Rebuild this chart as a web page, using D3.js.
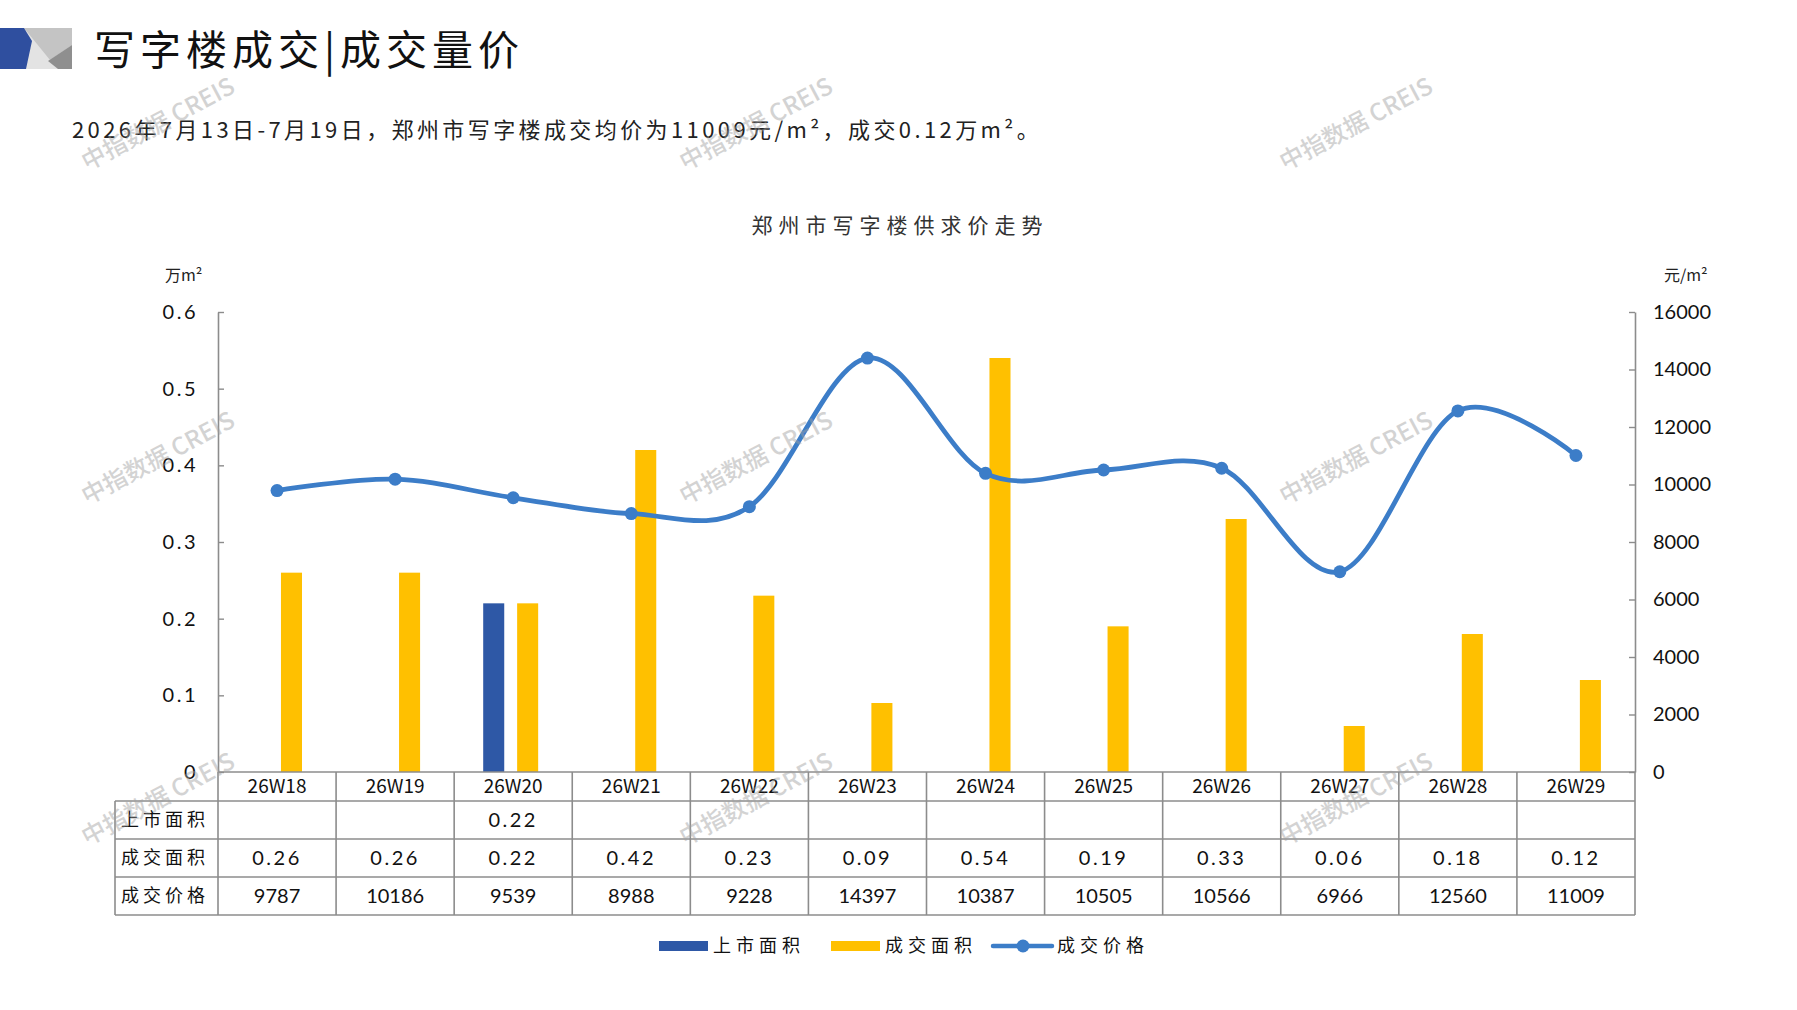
<!DOCTYPE html>
<html>
<head>
<meta charset="utf-8">
<script src="https://cdn.jsdelivr.net/npm/d3@7"></script>
<style>
  body { margin: 0; background: #fff; }
  svg { display: block; }
</style>
</head>
<body>
<svg id="chart" width="1797" height="1010"></svg>
<script>
// ---------------------------------------------------------------
// Data
// ---------------------------------------------------------------
const weeks = ['26W18', '26W19', '26W20', '26W21', '26W22', '26W23',
  '26W24', '26W25', '26W26', '26W27', '26W28', '26W29']
const listedArea = [null, null, 0.22, null, null, null, null, null, null, null, null, null]
const dealArea = [0.26, 0.26, 0.22, 0.42, 0.23, 0.09, 0.54, 0.19, 0.33, 0.06, 0.18, 0.12]
const dealPrice = [9787, 10186, 9539, 8988, 9228, 14397, 10387, 10505, 10566, 6966, 12560, 11009]

const areaTicks = [0, 0.1, 0.2, 0.3, 0.4, 0.5, 0.6]
const priceTicks = [0, 2000, 4000, 6000, 8000, 10000, 12000, 14000, 16000]
const seriesNames = ['上市面积', '成交面积', '成交价格']

const pageTitle = '写字楼成交|成交量价'
const subtitle = '2026年7月13日-7月19日，郑州市写字楼成交均价为11009元/m²，成交0.12万m²。'
const chartTitle = '郑州市写字楼供求价走势'
const leftUnit = '万m²'
const rightUnit = '元/m²'
const watermark = '中指数据 CREIS'

// ---------------------------------------------------------------
// Layout
// ---------------------------------------------------------------
const C_BLUE = '#2E58A6', C_YELLOW = '#FFC000', C_LINE = '#3C7DC8', C_GRID = '#8C8C8C'
const CJK = '"Noto Sans CJK SC", "Noto Sans", sans-serif'
const NUM = 'Lato, "Open Sans", sans-serif'

const plot = { left: 218, right: 1635, top: 312, bottom: 772 }
const tableLeft = 115
const rowEdges = [772, 801, 839, 877, 915]

const svg = d3.select('#chart')
svg.append('rect').attr('width', 1797).attr('height', 1010).attr('fill', '#fff')

const x = d3.scaleBand().domain(weeks).range([plot.left, plot.right])
const xs = d3.scaleBand().domain(seriesNames.slice(0, 2))
  .range([0, x.bandwidth()]).paddingInner(0.38).paddingOuter(0.93).align(0.46)
const yL = d3.scaleLinear().domain([0, 0.6]).range([plot.bottom, plot.top])
const yR = d3.scaleLinear().domain([0, 16000]).range([plot.bottom, plot.top])
const cx = w => x(w) + x.bandwidth() / 2

// ---------------------------------------------------------------
// Header block
// ---------------------------------------------------------------
const head = svg.append('g')
head.append('rect').attr('x', 0).attr('y', 28).attr('width', 72).attr('height', 41).attr('fill', '#e3e3e3')
head.append('polygon').attr('points', '24,28 72,28 72,45 50,60').attr('fill', '#c4c4c4')
head.append('polygon').attr('points', '72,45 72,69 58,69 48,61').attr('fill', '#8f8f8f')
head.append('polygon').attr('points', '0,28 24,28 32,41 26,69 0,69').attr('fill', '#2F4F9F')

svg.append('text')
  .attr('x', 94).attr('y', 65)
  .style('font-family', CJK).style('font-size', '41px').style('letter-spacing', '5px')
  .style('fill', '#111')
  .text(pageTitle)

svg.append('text')
  .attr('x', 72).attr('y', 138)
  .style('font-family', CJK).style('font-size', '22px').style('letter-spacing', '3.4px')
  .style('fill', '#222')
  .text(subtitle)

svg.append('text')
  .attr('x', 900).attr('y', 233).attr('text-anchor', 'middle')
  .style('font-family', CJK).style('font-size', '21px').style('letter-spacing', '6px')
  .style('fill', '#333')
  .text(chartTitle)

svg.append('text')
  .attr('x', 165).attr('y', 281)
  .style('font-family', CJK).style('font-size', '16px').style('fill', '#222')
  .text(leftUnit)
svg.append('text')
  .attr('x', 1664).attr('y', 281)
  .style('font-family', CJK).style('font-size', '16px').style('fill', '#222')
  .text(rightUnit)

// ---------------------------------------------------------------
// Axes
// ---------------------------------------------------------------
const leftAxis = d3.axisLeft(yL).tickValues(areaTicks)
  .tickSizeInner(-6).tickSizeOuter(0).tickPadding(20)
  .tickFormat(d => d === 0 ? '0' : d.toFixed(1))
const rightAxis = d3.axisRight(yR).tickValues(priceTicks)
  .tickSizeInner(-6).tickSizeOuter(0).tickPadding(18)
  .tickFormat(d3.format('d'))

const gL = svg.append('g').attr('transform', `translate(${plot.left},0)`).call(leftAxis)
const gR = svg.append('g').attr('transform', `translate(${plot.right},0)`).call(rightAxis)
for (const g of [gL, gR]) {
  g.select('.domain').attr('stroke', C_GRID).attr('stroke-width', 1.6)
  g.selectAll('.tick line').attr('stroke', C_GRID).attr('stroke-width', 1.4)
  g.selectAll('.tick text').style('font-family', NUM).style('font-size', '20px').style('fill', '#111')
}
gL.selectAll('.tick text').style('letter-spacing', '2.5px')

// ---------------------------------------------------------------
// Bars
// ---------------------------------------------------------------
const barSeries = [
  { name: seriesNames[0], values: listedArea, color: C_BLUE },
  { name: seriesNames[1], values: dealArea, color: C_YELLOW }
]
for (const s of barSeries) {
  svg.append('g').selectAll('rect')
    .data(weeks.map((w, i) => ({ w, v: s.values[i] })).filter(d => d.v != null))
    .join('rect')
    .attr('x', d => x(d.w) + xs(s.name))
    .attr('width', xs.bandwidth())
    .attr('y', d => yL(d.v))
    .attr('height', d => yL(0) - yL(d.v))
    .attr('fill', s.color)
}

// ---------------------------------------------------------------
// Price line (Excel-style smoothing)
// ---------------------------------------------------------------
const pricePts = weeks.map((w, i) => ({ w, v: dealPrice[i] }))
svg.append('path')
  .datum(pricePts)
  .attr('fill', 'none').attr('stroke', C_LINE).attr('stroke-width', 4.8)
  .attr('stroke-linejoin', 'round').attr('stroke-linecap', 'round')
  .attr('d', d3.line().x(d => cx(d.w)).y(d => yR(d.v)).curve(d3.curveCardinal.tension(0)))
svg.append('g').selectAll('circle')
  .data(pricePts).join('circle')
  .attr('cx', d => cx(d.w)).attr('cy', d => yR(d.v)).attr('r', 6.5)
  .attr('fill', C_LINE)

// ---------------------------------------------------------------
// Data table under the plot
// ---------------------------------------------------------------
const table = svg.append('g').attr('stroke', C_GRID).attr('stroke-width', 1.6)
rowEdges.forEach((y, i) => {
  table.append('line')
    .attr('x1', i === 0 ? plot.left : tableLeft).attr('x2', plot.right)
    .attr('y1', y).attr('y2', y)
})
const colEdges = weeks.map(w => x(w)).concat([plot.right])
colEdges.forEach(xx => {
  table.append('line').attr('x1', xx).attr('x2', xx)
    .attr('y1', rowEdges[0]).attr('y2', rowEdges[rowEdges.length - 1])
})
table.append('line').attr('x1', tableLeft).attr('x2', tableLeft)
  .attr('y1', rowEdges[1]).attr('y2', rowEdges[rowEdges.length - 1])

const rowMid = i => (rowEdges[i] + rowEdges[i + 1]) / 2

svg.append('g').selectAll('text')
  .data(weeks).join('text')
  .attr('x', d => cx(d)).attr('y', rowMid(0)).attr('dy', '0.36em')
  .attr('text-anchor', 'middle')
  .style('font-family', CJK).style('font-size', '19px').style('fill', '#111')
  .text(d => d)

const tableRows = [
  { label: seriesNames[0], values: listedArea, fmt: v => v.toFixed(2), spacing: '2.5px' },
  { label: seriesNames[1], values: dealArea, fmt: v => v.toFixed(2), spacing: '2.5px' },
  { label: seriesNames[2], values: dealPrice, fmt: v => String(v), spacing: '0px' }
]
tableRows.forEach((r, ri) => {
  const y = rowMid(ri + 1)
  svg.append('text')
    .attr('x', 121).attr('y', y).attr('dy', '0.36em')
    .style('font-family', CJK).style('font-size', '18px').style('letter-spacing', '4px')
    .style('fill', '#111')
    .text(r.label)
  svg.append('g').selectAll('text')
    .data(weeks.map((w, i) => ({ w, v: r.values[i] })).filter(d => d.v != null))
    .join('text')
    .attr('x', d => cx(d.w)).attr('y', y).attr('dy', '0.36em')
    .attr('text-anchor', 'middle')
    .style('font-family', NUM).style('font-size', '20px')
    .style('letter-spacing', r.spacing).style('fill', '#111')
    .text(d => r.fmt(d.v))
})

// ---------------------------------------------------------------
// Legend
// ---------------------------------------------------------------
const legend = svg.append('g').attr('transform', 'translate(0,946)')
const legendItems = [
  { name: seriesNames[0], x: 659, kind: 'bar', color: C_BLUE },
  { name: seriesNames[1], x: 831, kind: 'bar', color: C_YELLOW },
  { name: seriesNames[2], x: 993, kind: 'line', color: C_LINE }
]
legendItems.forEach(it => {
  if (it.kind === 'bar') {
    legend.append('rect').attr('x', it.x).attr('y', -5).attr('width', 49).attr('height', 10).attr('fill', it.color)
  } else {
    legend.append('line').attr('x1', it.x).attr('x2', it.x + 59).attr('y1', 0).attr('y2', 0)
      .attr('stroke', it.color).attr('stroke-width', 4.5).attr('stroke-linecap', 'round')
    legend.append('circle').attr('cx', it.x + 30).attr('cy', 0).attr('r', 6.5).attr('fill', it.color)
  }
  legend.append('text')
    .attr('x', it.x + (it.kind === 'bar' ? 54 : 64)).attr('y', 0).attr('dy', '0.36em')
    .style('font-family', CJK).style('font-size', '18px').style('letter-spacing', '5px')
    .style('fill', '#111')
    .text(it.name)
})

// ---------------------------------------------------------------
// Watermarks
// ---------------------------------------------------------------
const wmX = [158, 756, 1356]
const wmY = [124, 458, 799]
const wm = svg.append('g').style('pointer-events', 'none')
for (const wy of wmY) {
  for (const wx of wmX) {
    wm.append('text')
      .attr('transform', `translate(${wx},${wy}) rotate(-28)`)
      .attr('text-anchor', 'middle').attr('dy', '0.35em')
      .style('font-family', CJK).style('font-size', '24px').style('font-weight', 500)
      .style('fill', '#a0a0a0').style('opacity', 0.45)
      .text(watermark)
  }
}
</script>
</body>
</html>
